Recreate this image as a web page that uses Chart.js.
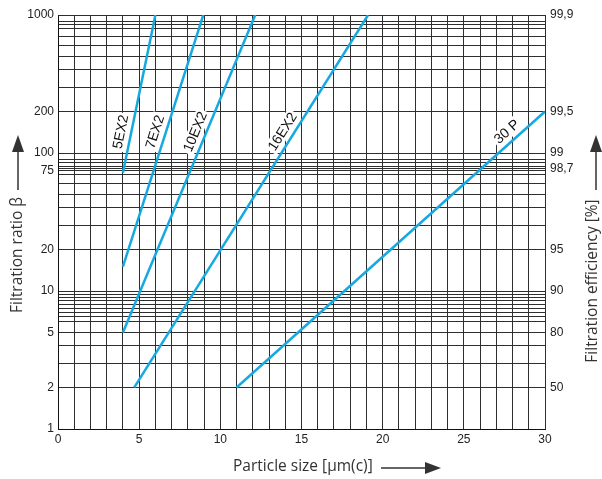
<!DOCTYPE html>
<html><head><meta charset="utf-8">
<script src="https://cdn.jsdelivr.net/npm/chart.js@4.4.0/dist/chart.umd.min.js"></script>
<style>html,body{margin:0;padding:0;background:#fff}#wrap{width:602px;height:479px}</style>
</head><body><div id="wrap"><canvas id="c" width="602" height="479"></canvas></div>
<script>
const particleSize5EX2 = [4, 6];
const ratio5EX2 = [72, 1000];
const particleSize7EX2 = [4, 8.95];
const ratio7EX2 = [15, 1000];
const particleSize10EX2 = [4, 12.15];
const ratio10EX2 = [5, 1000];
const particleSize16EX2 = [4.7, 19.1];
const ratio16EX2 = [2, 1000];
const particleSize30P = [11, 30];
const ratio30P = [2, 200];
const seriesNames = ['5EX2', '7EX2', '10EX2', '16EX2', '30 P'];
const ratioGridValues = [1,2,3,4,5,6,6.5,7,7.5,8,8.5,9,9.5,10,20,30,40,50,60,70,75,77,80,85,90,100,200,300,400,500,600,700,800,850,900,1000];
const ratioTickValues = [1,2,5,10,20,75,100,200,1000];
const efficiencyTickValues = [2,5,10,20,77,100,200,1000];
const efficiencyTickLabels = ['50','80','90','95','98,7','99','99,5','99,9'];
const sizeTickLabels = [0,5,10,15,20,25,30];

const LINE_COLOR = '#16a9e1';
const GRID_COLOR = '#2e2e2e';
const TICK_FONT = {family: '"Liberation Sans", Arial, sans-serif', size: 12};

function pts(xs, ys){ return xs.map((x,i)=>({x:x, y:ys[i]})); }
const seriesData = [
  pts(particleSize5EX2, ratio5EX2),
  pts(particleSize7EX2, ratio7EX2),
  pts(particleSize10EX2, ratio10EX2),
  pts(particleSize16EX2, ratio16EX2),
  pts(particleSize30P, ratio30P)
];

const annot = {
  id: 'annot',
  afterDatasetsDraw(chart){
    const ctx = chart.ctx;
    const ys = chart.scales.y;
    const yc = ys.getPixelForValue(142);
    ctx.save();
    ctx.font = '14px "Liberation Sans", Arial, sans-serif';
    chart.data.datasets.forEach((ds, i) => {
      const meta = chart.getDatasetMeta(i);
      const p0 = meta.data[0], p1 = meta.data[meta.data.length-1];
      const a = Math.atan2(p1.y - p0.y, p1.x - p0.x);
      const xLine = p0.x + (yc - p0.y) * (p1.x - p0.x) / (p1.y - p0.y);
      const xc = xLine - 10 / Math.abs(Math.sin(a));
      const txt = ds.label;
      const w = ctx.measureText(txt).width;
      ctx.save();
      ctx.translate(xc, yc);
      ctx.rotate(a);
      ctx.fillStyle = '#fff';
      ctx.fillRect(-w/2 - 2, -8, w + 4, 15);
      ctx.fillStyle = '#111';
      ctx.textAlign = 'center';
      ctx.textBaseline = 'middle';
      ctx.fillText(txt, 0, 0);
      ctx.restore();
    });
    ctx.restore();
  },
  afterDraw(chart){
    const ctx = chart.ctx;
    ctx.save();
    ctx.fillStyle = '#333';
    ctx.strokeStyle = '#333';
    ctx.lineWidth = 1.5;
    ctx.font = '15.5px "Open Sans", sans-serif';
    ctx.textBaseline = 'middle';
    // left title
    ctx.save();
    ctx.translate(18, 255);
    ctx.rotate(-Math.PI/2);
    ctx.textAlign = 'center';
    ctx.fillText('Filtration ratio β', 0, 0);
    ctx.restore();
    // right title
    ctx.save();
    ctx.translate(593, 281);
    ctx.rotate(-Math.PI/2);
    ctx.textAlign = 'center';
    ctx.fillText('Filtration efficiency [%]', 0, 0);
    ctx.restore();
    // bottom title
    ctx.textAlign = 'left';
    ctx.fillText('Particle size [µm(c)]', 233, 467);
    // arrows
    function vArrow(x){
      ctx.beginPath(); ctx.moveTo(x, 190); ctx.lineTo(x, 150); ctx.stroke();
      ctx.beginPath(); ctx.moveTo(x, 135); ctx.lineTo(x-6, 152); ctx.lineTo(x+6, 152); ctx.closePath(); ctx.fill();
    }
    vArrow(18);
    vArrow(596);
    ctx.beginPath(); ctx.moveTo(381, 468); ctx.lineTo(427, 468); ctx.stroke();
    ctx.beginPath(); ctx.moveTo(441, 468); ctx.lineTo(425, 462); ctx.lineTo(425, 474); ctx.closePath(); ctx.fill();
    ctx.restore();
  }
};

new Chart(document.getElementById('c'), {
  type: 'line',
  data: {
    datasets: seriesData.map((d, i) => ({
      label: seriesNames[i],
      data: d,
      borderColor: LINE_COLOR,
      borderWidth: 2.5,
      pointRadius: 0,
      fill: false,
      tension: 0,
      yAxisID: 'y'
    }))
  },
  options: {
    responsive: false,
    animation: false,
    layout: {padding: {top: 15, left: 0, right: 0, bottom: 0}},
    plugins: {legend: {display: false}, tooltip: {enabled: false}},
    scales: {
      x: {
        type: 'linear', min: 0, max: 30, position: 'bottom',
        ticks: {stepSize: 1, autoSkip: false, maxRotation: 0, padding: 3, color: '#222', font: TICK_FONT,
          callback: v => sizeTickLabels.includes(v) ? String(v) : ''},
        grid: {color: GRID_COLOR, lineWidth: 1, drawTicks: false},
        border: {color: '#111', width: 1},
        afterFit: s => { s.height = 50; }
      },
      y: {
        type: 'logarithmic', min: 1, max: 1000, position: 'left',
        afterBuildTicks: s => { s.ticks = ratioGridValues.map(v => ({value: v})); },
        ticks: {autoSkip: false, padding: 4, color: '#222', font: TICK_FONT,
          callback: v => ratioTickValues.includes(v) ? String(v) : ''},
        grid: {color: GRID_COLOR, lineWidth: 1, drawTicks: false},
        border: {color: '#111', width: 1},
        afterFit: s => { s.width = 58; }
      },
      y2: {
        type: 'logarithmic', min: 1, max: 1000, position: 'right',
        afterBuildTicks: s => { s.ticks = efficiencyTickValues.map(v => ({value: v})); },
        ticks: {autoSkip: false, padding: 5, color: '#222', font: TICK_FONT,
          callback: v => { const k = efficiencyTickValues.indexOf(v); return k >= 0 ? efficiencyTickLabels[k] : ''; }},
        grid: {display: false, drawTicks: false},
        border: {display: false},
        afterFit: s => { s.width = 57; }
      }
    }
  },
  plugins: [annot]
});
</script>
</body></html>
